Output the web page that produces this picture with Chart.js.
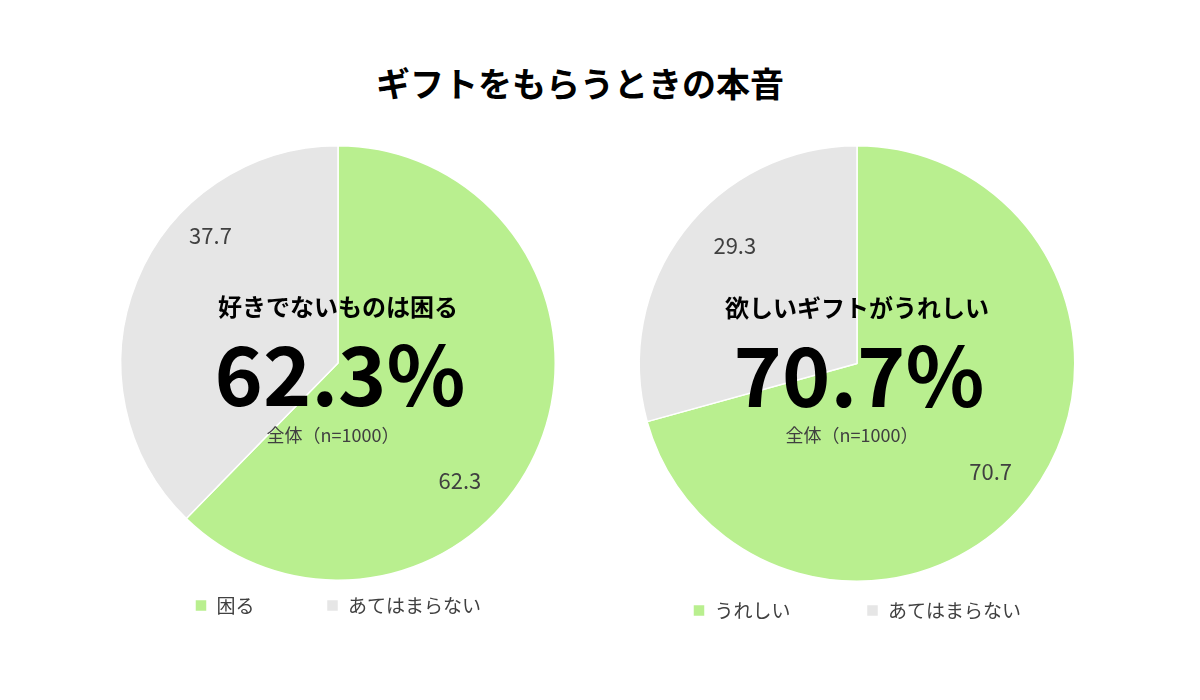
<!DOCTYPE html>
<html><head><meta charset="utf-8">
<script src="https://cdn.jsdelivr.net/npm/chart.js@4/dist/chart.umd.min.js"></script>
<style>
body{margin:0;width:1200px;height:700px;background:#fff;font-family:"Noto Sans CJK JP";position:relative;overflow:hidden}
#title{position:absolute;top:58px;left:0;width:1160px;text-align:center;font-size:34px;font-weight:bold;color:#000}
.box{position:absolute;top:140px;width:476px}
</style></head><body>
<div id="title">ギフトをもらうときの本音</div>
<div class="box" style="left:100px;height:485px"><canvas id="c1"></canvas></div>
<div class="box" style="left:619px;height:490px"><canvas id="c2"></canvas></div>
<script>
const leftLabels=["困る","あてはまらない"];
const leftValues=[62.3,37.7];
const rightLabels=["うれしい","あてはまらない"];
const rightValues=[70.7,29.3];
const colors=["#b9ef8f","#e6e6e6"];
const F='"Noto Sans CJK JP"';
function make(id,labels,values,head,big,labAng,labR,gap,lp){
  const plug={id:'txt'+id,afterDatasetsDraw(ch){
    const ctx=ch.ctx;const meta=ch.getDatasetMeta(0);
    ctx.save();ctx.fillStyle='#404040';ctx.font='22px '+F;ctx.textAlign='center';ctx.textBaseline='middle';
    meta.data.forEach((a,i)=>{const r=a.outerRadius*labR[i],t=labAng[i]*Math.PI/180;
      ctx.fillText(values[i].toFixed(1),a.x+Math.sin(t)*r,a.y-Math.cos(t)*r);});
    const a=meta.data[0];const cx=a.x,cy=a.y;
    ctx.fillStyle='#000';ctx.font='bold 24px '+F;ctx.fillText(head,cx,cy-56);
    ctx.font='bold 82px '+F;ctx.fillText(big,cx+2,cy+12);
    ctx.fillStyle='#404040';ctx.font='18px '+F;ctx.fillText('全体（n=1000）',cx-5,cy+72);
    ctx.restore();}};
  new Chart(document.getElementById(id),{type:'pie',
    data:{labels,datasets:[{data:values,backgroundColor:colors,borderColor:'#fff',borderWidth:1.5}]},
    options:{responsive:true,maintainAspectRatio:false,animation:false,layout:{padding:{top:5}},
      plugins:{tooltip:{enabled:false},legend:{position:'bottom',labels:{boxWidth:12,boxHeight:12,padding:lp,color:'#404040',font:{family:F,size:19},
        generateLabels(ch){return Chart.overrides.pie.plugins.legend.labels.generateLabels(ch).map((l,i)=>({...l,text:i==0?l.text+gap:l.text}));}}}}},
    plugins:[plug]});
}
make('c1',leftLabels,leftValues,'好きでないものは困る','62.3%',[134,315],[0.78,0.83],'　　　',15);
make('c2',rightLabels,rightValues,'欲しいギフトがうれしい','70.7%',[129,314],[0.79,0.78],'　　　',19);
</script></body></html>
